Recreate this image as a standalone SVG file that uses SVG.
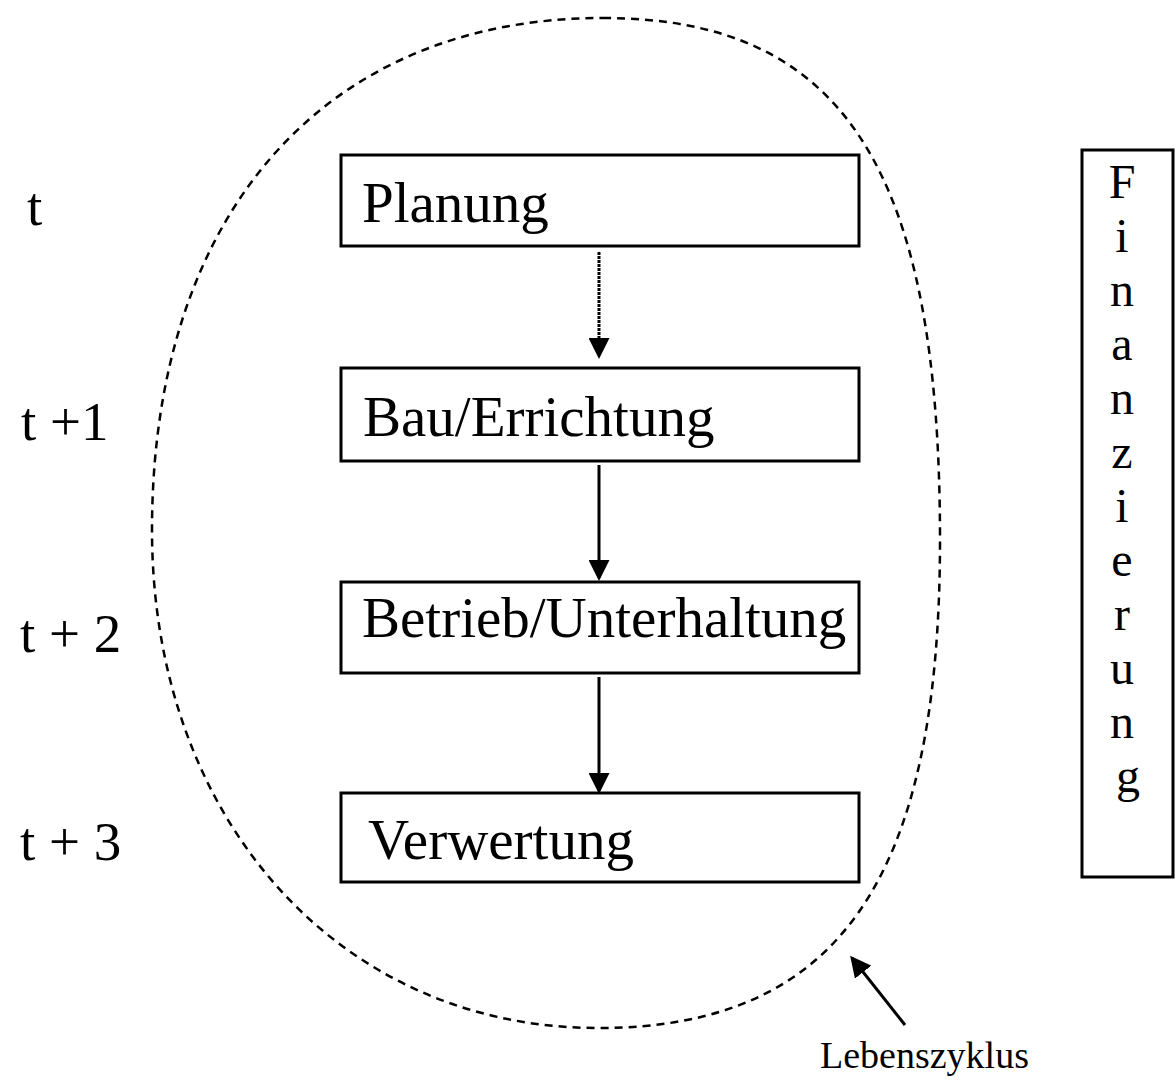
<svg xmlns="http://www.w3.org/2000/svg" width="1175" height="1086" viewBox="0 0 1175 1086">
<style>
text{font-family:"Liberation Serif","Times New Roman",serif;fill:#000}
.box{fill:#fff;stroke:#000;stroke-width:3}
.lbl{font-size:57px}
.t{font-size:55px}
.fin{font-size:48px;text-anchor:middle}
.conn{stroke:#000;stroke-width:3;fill:none}
</style>
<defs>
<marker id="ah" markerWidth="7" markerHeight="7" refX="6" refY="3.5" orient="auto" markerUnits="strokeWidth">
<path d="M0,0 L7,3.5 L0,7 Z" fill="#000"/>
</marker>
</defs>
<rect width="1175" height="1086" fill="#fff"/>
<g id="lebenszyklus-oval">
<path d="M603,18 C843,18 940,168 940,540 C940,882 837,1028 598,1028 C339,1028 152,819 152,530 C152,213 325,18 603,18 Z" fill="none" stroke="#000" stroke-width="2.5" stroke-dasharray="8 6"/>
</g>
<g id="time-labels">
<text class="t" x="27" y="225">t</text>
<text class="t" x="21" y="440">t +1</text>
<text class="t" x="20" y="652">t + 2</text>
<text class="t" x="20" y="860">t + 3</text>
</g>
<g id="node-planung">
<rect class="box" x="341" y="155" width="518" height="91"/>
<text class="lbl" x="362" y="222">Planung</text>
</g>
<g id="node-bau">
<rect class="box" x="341" y="368" width="518" height="93"/>
<text class="lbl" x="363" y="436">Bau/Errichtung</text>
</g>
<g id="node-betrieb">
<rect class="box" x="341" y="582" width="518" height="91"/>
<text class="lbl" x="362" y="637">Betrieb/Unterhaltung</text>
</g>
<g id="node-verwertung">
<rect class="box" x="341" y="793" width="518" height="89"/>
<text class="lbl" x="368" y="859">Verwertung</text>
</g>
<g id="node-finanzierung">
<rect class="box" x="1082" y="150" width="91" height="727"/>
<text class="fin">
<tspan x="1128" y="198">F</tspan>
<tspan x="1128" y="252">i</tspan>
<tspan x="1128" y="306">n</tspan>
<tspan x="1128" y="360">a</tspan>
<tspan x="1128" y="414">n</tspan>
<tspan x="1128" y="468">z</tspan>
<tspan x="1128" y="522">i</tspan>
<tspan x="1128" y="576">e</tspan>
<tspan x="1128" y="630">r</tspan>
<tspan x="1128" y="684">u</tspan>
<tspan x="1128" y="738">n</tspan>
<tspan x="1128" y="792">g</tspan>
</text>
</g>
<g id="label-lebenszyklus">
<text x="820" y="1068" style="font-size:38px">Lebenszyklus</text>
</g>
<g id="connectors">
<line class="conn" x1="599" y1="252" x2="599" y2="356" stroke-dasharray="3 1" marker-end="url(#ah)"/>
<line class="conn" x1="599" y1="465" x2="599" y2="578" marker-end="url(#ah)"/>
<line class="conn" x1="599" y1="677" x2="599" y2="791" marker-end="url(#ah)"/>
<line class="conn" x1="905" y1="1025" x2="852" y2="958" marker-end="url(#ah)"/>
</g>
</svg>
